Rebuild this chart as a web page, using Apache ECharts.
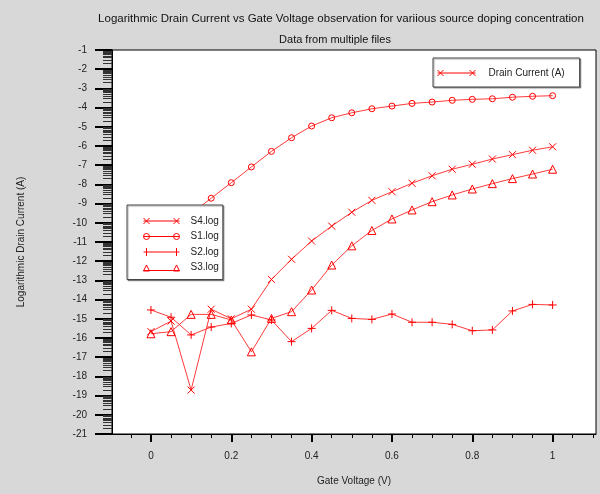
<!DOCTYPE html>
<html><head><meta charset="utf-8">
<script src="https://cdn.jsdelivr.net/npm/echarts@6/dist/echarts.min.js"></script>
<style>html,body{margin:0;padding:0;background:#d8d8d8}#c{width:600px;height:494px}</style>
</head><body><div id="c"></div>
<script>
// ---- data ----
const gateVoltage = [0, 0.05, 0.1, 0.15, 0.2, 0.25, 0.3, 0.35, 0.4, 0.45, 0.5, 0.55, 0.6, 0.65, 0.7, 0.75, 0.8, 0.85, 0.9, 0.95, 1.0];
const s4Log = [-15.67, -15.12, -18.71, -14.5, -15.0, -14.5, -12.95, -11.9, -10.95, -10.17, -9.45, -8.83, -8.38, -7.94, -7.55, -7.21, -6.95, -6.68, -6.45, -6.22, -6.04];
const s1Log = [-11.13, -10.33, -9.53, -8.72, -7.91, -7.09, -6.28, -5.57, -4.96, -4.53, -4.27, -4.06, -3.92, -3.78, -3.71, -3.62, -3.57, -3.54, -3.46, -3.41, -3.38];
const s2Log = [-14.54, -14.92, -15.84, -15.43, -15.24, -14.8, -15.06, -16.19, -15.5, -14.56, -14.98, -15.03, -14.75, -15.18, -15.18, -15.29, -15.62, -15.58, -14.59, -14.25, -14.28];
const s3Log = [-15.78, -15.67, -14.77, -14.77, -15.06, -16.72, -14.98, -14.63, -13.5, -12.2, -11.2, -10.4, -9.8, -9.33, -8.9, -8.55, -8.24, -7.96, -7.7, -7.46, -7.21];
const seriesNames = ['S4.log', 'S1.log', 'S2.log', 'S3.log'];
const extraLegendName = 'Drain Current (A)';
const xMajorTicks = [0, 0.2, 0.4, 0.6, 0.8, 1];
const xMinorTicks = [-0.05, 0.05, 0.1, 0.15, 0.25, 0.3, 0.35, 0.45, 0.5, 0.55, 0.65, 0.7, 0.75, 0.85, 0.9, 0.95, 1.05, 1.1];
const yMajorTicks = [-1, -2, -3, -4, -5, -6, -7, -8, -9, -10, -11, -12, -13, -14, -15, -16, -17, -18, -19, -20, -21];

// ---- build ----
const FONT = '"Liberation Sans", Arial, sans-serif';
const RED = '#ff0000';
const LINE = '#ff3a3a';
const yMinorTicks = [];
for (let n = -21; n < -1; n++) for (let k = 2; k <= 9; k++) yMinorTicks.push(n + Math.log10(k));

const pair = (arr) => gateVoltage.map((x, i) => [x, arr[i]]);
const symX = 'path://M0 0L8 8M0 8L8 0';
const symPlus = 'path://M4 0L4 8M0 4L8 4';

const iconS4 = 'path://M0 4L36 4M0 1L6 7M0 7L6 1M30 1L36 7M30 7L36 1';
const iconS1 = 'path://M0 4L36 4M6 4A3 3 0 1 0 0 4A3 3 0 1 0 6 4M36 4A3 3 0 1 0 30 4A3 3 0 1 0 36 4M0 0.5L0 0.5M0 7.5L0 7.5';
const iconS2 = 'path://M0 4L36 4M3 0L3 8M33 0L33 8M0 4L0 4M36 4L36 4';
const iconS3 = 'path://M0 6.5L36 6.5M0 7L3 1L6 7ZM30 7L33 1L36 7ZM0 0L0 0';
const iconDC = 'path://M0 3.5L38 3.5M0 0.5L6 6.5M0 6.5L6 0.5M32 0.5L38 6.5M32 6.5L38 0.5';

function mkSeries(name, data, symbol, size) {
  return {
    name, type: 'line', data: pair(data), symbol, symbolSize: size,
    showAllSymbol: true,
    lineStyle: { color: LINE, width: 1 },
    itemStyle: { color: 'rgba(0,0,0,0)', borderColor: RED, borderWidth: 1 },
    emphasis: { disabled: true }, z: 2
  };
}

const legendCommon = {
  orient: 'vertical', selectedMode: false,
  backgroundColor: '#ffffff', borderColor: '#444', borderWidth: 1,
  shadowColor: 'rgba(0,0,0,0.35)', shadowOffsetX: 1, shadowOffsetY: 1, shadowBlur: 1,
  textStyle: { fontFamily: FONT, fontSize: 10, color: '#222', lineHeight: 12, padding: [0, 0, 0, 6] },
  itemStyle: { color: 'rgba(0,0,0,0)', borderColor: RED, borderWidth: 1 },
  lineStyle: { color: RED, width: 1 }
};

const chart = echarts.init(document.getElementById('c'), null, { renderer: 'canvas' });
chart.setOption({
  animation: false,
  backgroundColor: '#d8d8d8',
  title: [
    { text: 'Logarithmic Drain Current vs Gate Voltage observation for variious source doping concentration',
      left: 336, top: 8, textAlign: 'center',
      textStyle: { fontFamily: FONT, fontSize: 11.5, fontWeight: 'normal', color: '#111' } },
    { text: 'Data from multiple files',
      left: 330, top: 29, textAlign: 'center',
      textStyle: { fontFamily: FONT, fontSize: 11, fontWeight: 'normal', color: '#111' } }
  ],
  grid: { left: 112, top: 50, width: 484, height: 384, show: true, backgroundColor: '#ffffff', borderColor: '#000', borderWidth: 1, containLabel: false },
  legend: [
    Object.assign({}, legendCommon, {
      left: 127, top: 205, itemWidth: 36, itemHeight: 8, itemGap: 3.5,
      padding: [10, 4, 6, 16],
      data: [
        { name: seriesNames[0], icon: iconS4 },
        { name: seriesNames[1], icon: iconS1 },
        { name: seriesNames[2], icon: iconS2 },
        { name: seriesNames[3], icon: iconS3 }
      ]
    }),
    Object.assign({}, legendCommon, {
      left: 433, top: 58, itemWidth: 38, itemHeight: 7,
      padding: [9, 15, 8, 4],
      textStyle: Object.assign({}, legendCommon.textStyle, { padding: [0, 0, 0, 8] }),
      data: [{ name: extraLegendName, icon: iconDC }]
    })
  ],
  xAxis: [
    { type: 'value', min: -0.097, max: 1.108, position: 'bottom',
      name: 'Gate Voltage (V)', nameLocation: 'middle', nameGap: 42,
      nameTextStyle: { fontFamily: FONT, fontSize: 10, color: '#222' },
      axisLine: { show: true, onZero: false, lineStyle: { color: '#000', width: 1 } },
      axisTick: { show: true, length: 8, customValues: xMajorTicks, lineStyle: { color: '#000', width: 2 } },
      axisLabel: { show: true, customValues: xMajorTicks, margin: 17, fontFamily: FONT, fontSize: 10, color: '#222',
        formatter: (v) => String(Math.round(v * 10) / 10) },
      splitLine: { show: false } },
    { type: 'value', min: -0.097, max: 1.108, position: 'bottom',
      axisLine: { show: false, onZero: false },
      axisTick: { show: true, length: 4, customValues: xMinorTicks, lineStyle: { color: '#000', width: 1 } },
      axisLabel: { show: false }, splitLine: { show: false } }
  ],
  yAxis: [
    { type: 'value', min: -21, max: -1, interval: 1, position: 'left',
      name: 'Logarithmic Drain Current (A)', nameLocation: 'middle', nameGap: 86,
      nameTextStyle: { fontFamily: FONT, fontSize: 10, color: '#222' },
      axisLine: { show: true, onZero: false, lineStyle: { color: '#000', width: 1 } },
      axisTick: { show: true, length: 17, customValues: yMajorTicks, lineStyle: { color: '#000', width: 2 } },
      axisLabel: { show: true, customValues: yMajorTicks, margin: 25, fontFamily: FONT, fontSize: 10, color: '#222' },
      splitLine: { show: false } },
    { type: 'value', min: -21, max: -1, position: 'left',
      axisLine: { show: false, onZero: false },
      axisTick: { show: true, length: 9, customValues: yMinorTicks, lineStyle: { color: '#333', width: 1 } },
      axisLabel: { show: false }, splitLine: { show: false } }
  ],
  series: [
    mkSeries(seriesNames[0], s4Log, symX, 7),
    mkSeries(seriesNames[1], s1Log, 'circle', 6),
    mkSeries(seriesNames[2], s2Log, symPlus, 8),
    mkSeries(seriesNames[3], s3Log, 'triangle', 8),
    { name: extraLegendName, type: 'line', data: [], symbol: symX,
      lineStyle: { color: LINE, width: 1 },
      itemStyle: { color: 'rgba(0,0,0,0)', borderColor: RED, borderWidth: 1 } }
  ]
});
</script>
</body></html>
